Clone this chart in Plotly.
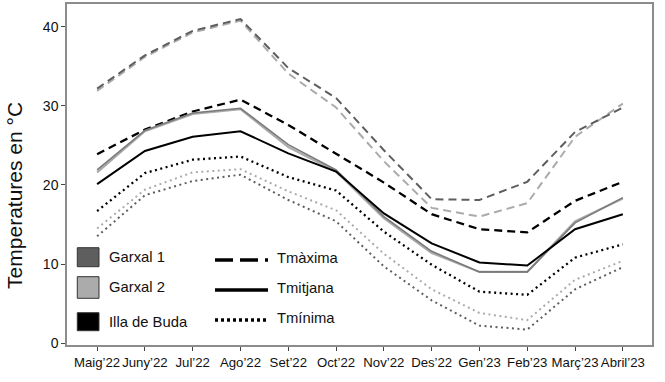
import plotly.graph_objects as go

months = ["Maig’22", "Juny’22", "Jul’22", "Ago’22", "Set’22", "Oct’22",
          "Nov’22", "Des’22", "Gen’23", "Feb’23", "Març’23", "Abril’23"]

g1_max = [32.2, 36.4, 39.5, 41.0, 34.8, 31.0, 24.4, 18.2, 18.1, 20.4, 26.7, 29.8]
g2_max = [31.9, 36.2, 39.3, 40.8, 34.1, 29.8, 23.0, 17.1, 16.0, 17.7, 26.1, 30.3]
bu_max = [23.9, 27.0, 29.3, 30.8, 27.6, 24.0, 20.3, 16.3, 14.4, 14.0, 18.0, 20.4]

g1_mean = [21.9, 26.9, 29.1, 29.7, 25.1, 21.9, 16.0, 11.6, 9.0, 9.0, 15.2, 18.4]
g2_mean = [21.6, 26.8, 29.0, 29.6, 24.8, 21.7, 15.8, 11.4, 9.0, 9.0, 15.4, 18.3]
bu_mean = [20.1, 24.3, 26.1, 26.8, 24.0, 21.7, 16.4, 12.6, 10.2, 9.8, 14.4, 16.3]

g1_min = [13.5, 18.7, 20.5, 21.3, 18.1, 15.4, 9.7, 5.4, 2.2, 1.7, 6.8, 9.6]
g2_min = [14.5, 19.4, 21.6, 22.0, 19.2, 16.8, 11.3, 6.8, 3.8, 2.9, 8.0, 10.4]
bu_min = [16.7, 21.5, 23.2, 23.6, 21.0, 19.3, 14.1, 9.9, 6.5, 6.1, 10.8, 12.5]

site_names = ["Garxal 1", "Garxal 2", "Illa de Buda"]
stat_names = ["Tmàxima", "Tmitjana", "Tmínima"]
y_title = "Temperatures en °C"

C_G1 = "#5e5e5e"
C_G2 = "#ababab"
C_BU = "#000000"

fig = go.Figure()

def add(y, color, dash, width, name):
    fig.add_trace(go.Scatter(x=months, y=y, mode="lines", name=name,
                             line=dict(color=color, dash=dash, width=width),
                             showlegend=False, hoverinfo="skip"))

DASH = "8px,5px"
DOT = "2px,3.5px"
# light grey first, then dark grey, then black
add(g2_max, C_G2, DASH, 2, "Garxal 2 Tmàxima")
add(g1_max, C_G1, DASH, 2, "Garxal 1 Tmàxima")
add(bu_max, C_BU, DASH, 2.3, "Illa de Buda Tmàxima")
add(g2_min, C_G2, DOT, 2, "Garxal 2 Tmínima")
add(g1_min, C_G1, DOT, 2, "Garxal 1 Tmínima")
add(bu_min, C_BU, DOT, 2.3, "Illa de Buda Tmínima")
add(g2_mean, C_G2, "solid", 2.2, "Garxal 2 Tmitjana")
add(g1_mean, "#7a7a7a", "solid", 1.6, "Garxal 1 Tmitjana")
add(bu_mean, C_BU, "solid", 2, "Illa de Buda Tmitjana")

FONT = "Liberation Sans, Arial, sans-serif"

# manual legend (two columns, inside plot)
shapes = []
annotations = []
sq_x0, sq_x1 = 0.0176, 0.0547
sq_rows = [(0.2296, 0.2853, C_G1), (0.137, 0.2003, C_G2), (0.0419, 0.0947, C_BU)]
txt_y = [0.2572, 0.1692, 0.0666]
for (y0, y1, c), ty, nm in zip(sq_rows, txt_y, site_names):
    shapes.append(dict(type="rect", xref="paper", yref="paper", x0=sq_x0, x1=sq_x1,
                       y0=y0, y1=y1, fillcolor=c, line=dict(color="#333333", width=1)))
    annotations.append(dict(xref="paper", yref="paper", x=0.068, y=ty, text=nm,
                            showarrow=False, xanchor="left", yanchor="middle",
                            font=dict(size=14.8, color="#111111", family=FONT)))
ln_y = [0.2493, 0.1613, 0.0733]
ln_dash = ["18px,7px", "solid", "3px,3px"]
for ly, d, nm in zip(ln_y, ln_dash, stat_names):
    shapes.append(dict(type="line", xref="paper", yref="paper", x0=0.253, x1=0.3436,
                       y0=ly, y1=ly, line=dict(color="#000000", width=3.3, dash=d)))
    annotations.append(dict(xref="paper", yref="paper", x=0.355, y=ly + 0.006, text=nm,
                            showarrow=False, xanchor="left", yanchor="middle",
                            font=dict(size=14.8, color="#111111", family=FONT)))

# y-axis title
annotations.append(dict(xref="paper", yref="paper", x=-0.089, y=0.44, text=y_title,
                        textangle=-90, showarrow=False, xanchor="center", yanchor="middle",
                        font=dict(size=21, color="#111111", family=FONT)))

fig.update_layout(
    width=665, height=382,
    margin=dict(l=67, r=13, t=4, b=37, autoexpand=False),
    paper_bgcolor="white", plot_bgcolor="white",
    font=dict(family=FONT, color="#111111"),
    shapes=shapes, annotations=annotations,
    showlegend=False,
)
fig.update_xaxes(
    type="category", range=[-0.63, 11.61], tickangle=0, automargin=False,
    showline=True, linecolor="#8c8c8c", linewidth=1.5, mirror=True,
    ticks="outside", ticklen=4, tickcolor="#444444", tickwidth=1,
    showgrid=False, zeroline=False,
    tickfont=dict(size=13.2, color="#111111", family=FONT),
)
fig.update_yaxes(
    range=[-0.25, 42.9], automargin=False,
    tickvals=[0, 10, 20, 30, 40],
    showline=True, linecolor="#8c8c8c", linewidth=1.5, mirror=True,
    ticks="outside", ticklen=4, tickcolor="#444444", tickwidth=1,
    showgrid=False, zeroline=False,
    tickfont=dict(size=14, color="#111111", family=FONT),
)

fig.write_html("out.html", config=dict(displayModeBar=False),
               post_script="document.body.style.margin='0';document.body.style.overflow='hidden';")
